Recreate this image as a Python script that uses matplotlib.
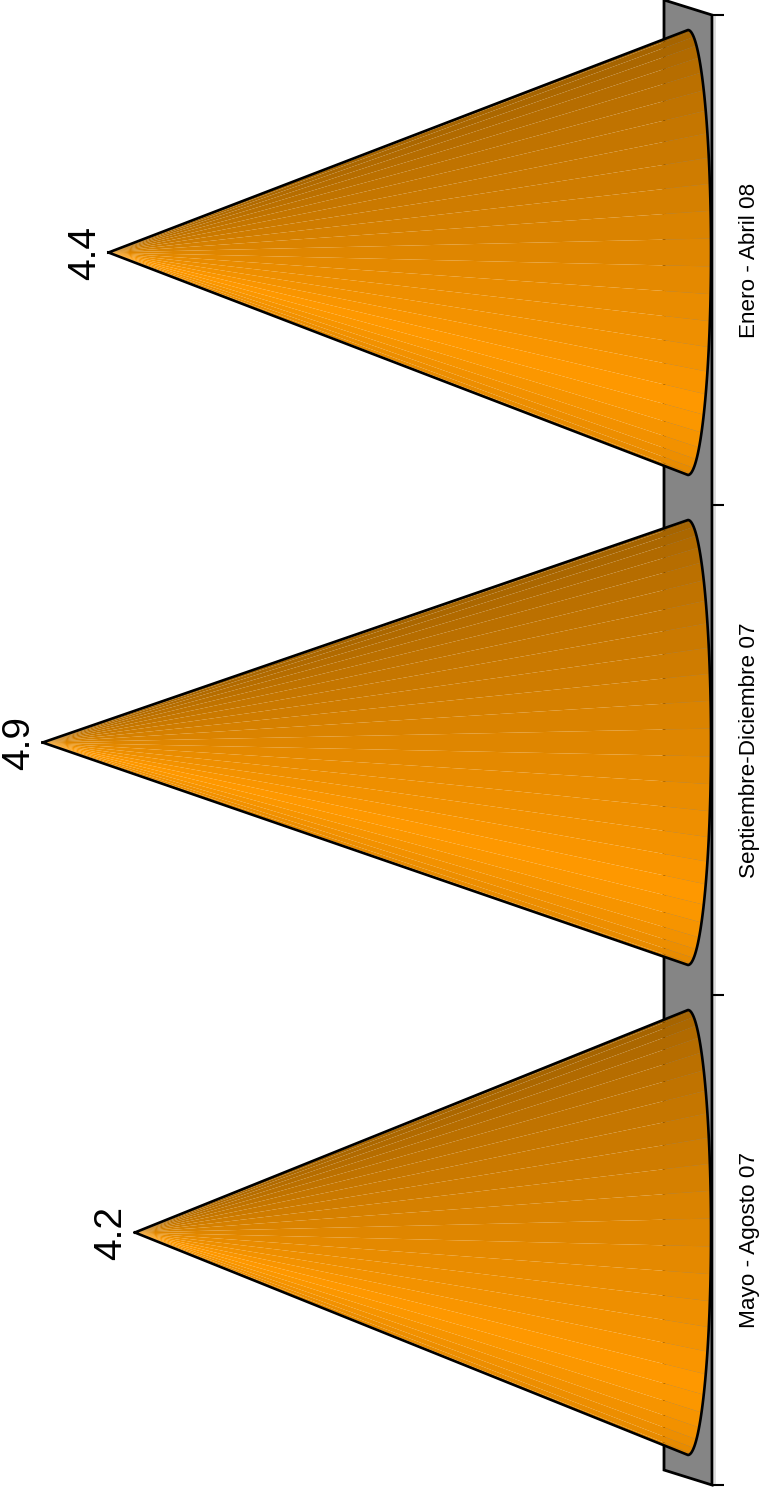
import numpy as np
import matplotlib
matplotlib.use('Agg')
import matplotlib.pyplot as plt

categories = ['Mayo - Agosto 07', 'Septiembre-Diciembre 07', 'Enero - Abril 08']
values = [4.2, 4.9, 4.4]

W, H = 767, 1491
PX_PER_VALUE = 131.7
PX_PER_CAT = 490.0
BASE_X = 688      # pixel of value 0
CAT0_Y = 1240     # pixel of category 0 on the front edge of the floor

CONE_ORANGE = np.array([255, 153, 0]) / 255
N_FACETS = 25

plt.rcParams['font.family'] = ['Liberation Sans', 'DejaVu Sans']

fig = plt.figure(figsize=(W / 100, H / 100), dpi=100)
ax = fig.add_axes([0, 0, 1, 1])
ax.set_xlim(BASE_X / PX_PER_VALUE, (BASE_X - W) / PX_PER_VALUE)
ax.set_ylim((CAT0_Y - H) / PX_PER_CAT, CAT0_Y / PX_PER_CAT)
ax.axis('off')

# sizes in data units
floor_dx = 24 / PX_PER_VALUE
floor_dy = 7.5 / PX_PER_CAT
ell_a = 23 / PX_PER_VALUE
ell_b = 222.5 / PX_PER_CAT
n = len(categories)

# floor
fx = [floor_dx, floor_dx, -floor_dx, -floor_dx]
fy = [-0.5 + 2 * floor_dy, n - 0.5 + 2 * floor_dy, n - 0.5, -0.5]
ax.plot([-floor_dx - 2.5 / PX_PER_VALUE] * 2, [-0.5, n - 0.5], color='#d8d8d8', lw=1.2, zorder=1)
ax.fill(fx, fy, facecolor='#858585', edgecolor='black', lw=2, joinstyle='miter', zorder=2)

# ticks
for i in range(n + 1):
    ax.plot([-floor_dx, -floor_dx - 12 / PX_PER_VALUE], [i - 0.5, i - 0.5], color='black', lw=1.5,
            solid_capstyle='butt', zorder=3)


def shade(deg):
    # top of the cone is dark, brightest a bit below the middle
    if deg < 45:
        return 1 - 0.35 * (45 - deg) / 125
    return 1 - 0.12 * (deg - 45) / 45


for i, (cat, val) in enumerate(zip(categories, values)):
    cy = i + floor_dy
    # facets, angle runs from top of the base to the bottom
    edges = np.linspace(-90, 90, N_FACETS + 1)
    for a0, a1 in zip(edges[:-1], edges[1:]):
        t = np.radians(np.linspace(a0, a1, 4))
        px = -ell_a * np.cos(t)
        py = cy - ell_b * np.sin(t)
        col = CONE_ORANGE * shade((a0 + a1) / 2)
        ax.fill(np.r_[val, px], np.r_[cy, py], facecolor=col, edgecolor='none', lw=0, zorder=4)

    # outline
    t = np.radians(np.linspace(-90, 90, 91))
    ox = np.r_[val, -ell_a * np.cos(t), val]
    oy = np.r_[cy, cy - ell_b * np.sin(t), cy]
    ax.plot(ox, oy, color='black', lw=1.9, solid_joinstyle='round', zorder=5)

    ax.annotate(f'{val}', xy=(val, cy), xytext=(-4.2, 0), textcoords='offset points',
                rotation=90, ha='right', va='center', fontsize=28, color='black', zorder=6)
    ax.text(-floor_dx - 37 / PX_PER_VALUE, i, cat, rotation=90, ha='center', va='center',
            fontsize=16.2, color='black')

fig.savefig('out.png', dpi=100)
